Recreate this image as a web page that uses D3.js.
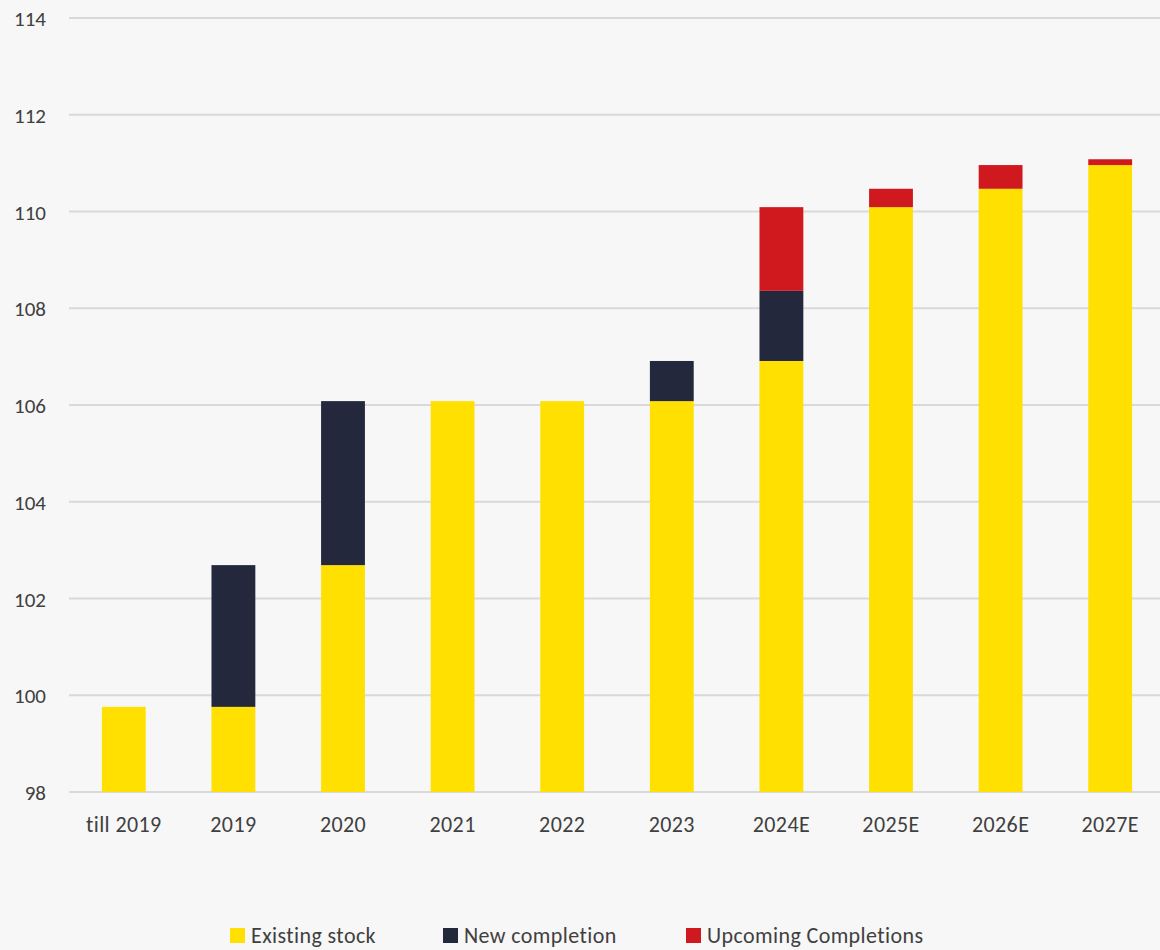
<!DOCTYPE html>
<html>
<head>
<meta charset="utf-8">
<script src="https://cdn.jsdelivr.net/npm/d3@7"></script>
<style>
  html, body { margin: 0; padding: 0; background: #f7f7f7; }
  svg { display: block; }
  text { font-family: Carlito, Calibri, Lato, "Open Sans", sans-serif; fill: #404040; }
</style>
</head>
<body>
<svg id="chart" width="1160" height="950"></svg>
<script>
// Stock by year (stacked)
const categories = ["till 2019", "2019", "2020", "2021", "2022", "2023", "2024E", "2025E", "2026E", "2027E"];
const existingStock = [99.76, 99.76, 102.69, 106.08, 106.08, 106.08, 106.91, 110.09, 110.47, 110.96];
const newCompletion = [0, 2.93, 3.39, 0, 0, 0.83, 1.45, 0, 0, 0];
const upcomingCompletions = [0, 0, 0, 0, 0, 0, 1.73, 0.38, 0.49, 0.12];
const yTicks = [98, 100, 102, 104, 106, 108, 110, 112, 114];

const seriesNames = ["Existing stock", "New completion", "Upcoming Completions"];
const seriesColors = ["#FFE000", "#23283C", "#D0191E"];
const baseline = 98;
const fontStack = "Carlito, Calibri, Lato, 'Open Sans', sans-serif";

const svg = d3.select("#chart");
const margin = { left: 69, right: -5, top: 18, bottom: 158 };
const W = 1160, H = 950;

const x = d3.scaleBand()
  .domain(categories)
  .range([margin.left, W - margin.right])
  .paddingInner(0.6)
  .paddingOuter(0.3);

const y = d3.scaleLinear()
  .domain([98, 114])
  .range([H - margin.bottom, margin.top]);

// Gridlines
svg.append("g")
  .selectAll("line")
  .data(yTicks)
  .join("line")
  .attr("x1", margin.left)
  .attr("x2", W)
  .attr("y1", d => y(d))
  .attr("y2", d => y(d))
  .attr("stroke", "#d9d9d9")
  .attr("stroke-width", 2);

// Y axis labels
const yAxis = d3.axisLeft(y).tickValues(yTicks).tickSize(0).tickPadding(0);
const gy = svg.append("g").attr("transform", "translate(46,0)").call(yAxis);
gy.select(".domain").remove();
gy.selectAll("text")
  .attr("font-size", 21)
  .attr("dy", "0.36em")
  .attr("fill", "#404040")
  .style("font-family", fontStack);

// Stacked data
const table = categories.map((c, i) => ({
  category: c,
  "Existing stock": existingStock[i] - baseline,
  "New completion": newCompletion[i],
  "Upcoming Completions": upcomingCompletions[i]
}));
const stacked = d3.stack().keys(seriesNames)(table);

svg.append("g")
  .selectAll("g")
  .data(stacked)
  .join("g")
  .attr("fill", (d, i) => seriesColors[i])
  .selectAll("rect")
  .data(d => d)
  .join("rect")
  .attr("x", d => x(d.data.category))
  .attr("width", x.bandwidth())
  .attr("y", d => y(baseline + d[1]))
  .attr("height", d => y(baseline + d[0]) - y(baseline + d[1]));

// X axis labels
const xAxis = d3.axisBottom(x).tickSize(0).tickPadding(0);
const gx = svg.append("g").attr("transform", "translate(0,0)").call(xAxis);
gx.select(".domain").remove();
gx.selectAll("text")
  .attr("y", 832)
  .attr("dy", null)
  .attr("font-size", 22)
  .attr("letter-spacing", 0.4)
  .attr("fill", "#404040")
  .style("font-family", fontStack);

// Legend
const legendX = [230, 443, 686];
const legend = svg.append("g")
  .selectAll("g")
  .data(seriesNames)
  .join("g")
  .attr("transform", (d, i) => `translate(${legendX[i]},928)`);
legend.append("rect")
  .attr("width", 15).attr("height", 15)
  .attr("fill", (d, i) => seriesColors[i]);
legend.append("text")
  .attr("x", 21).attr("y", 15)
  .attr("font-size", 22)
  .attr("letter-spacing", 0.4)
  .text(d => d);
</script>
</body>
</html>
